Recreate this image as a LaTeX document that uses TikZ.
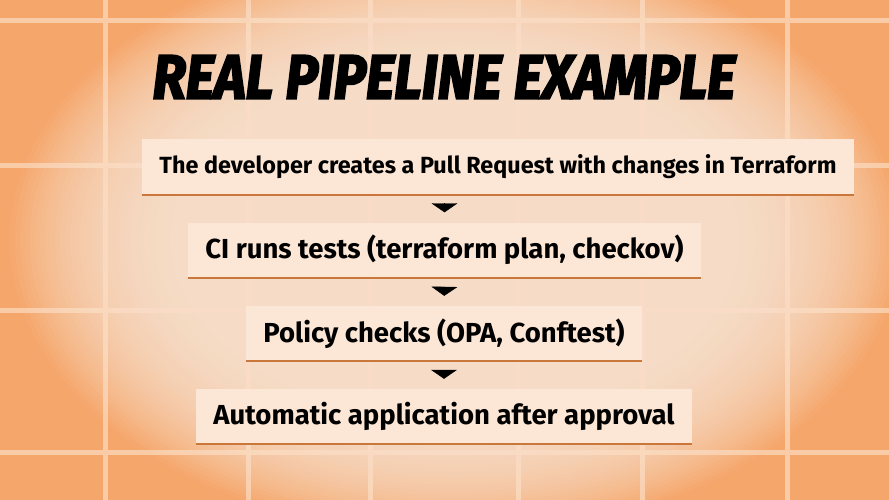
\documentclass[tikz,border=0pt]{standalone}
\usepackage{fontspec}
\setmainfont{Fira Sans}
\newfontfamily\titlefont{Fira Sans}[FakeBold=3.5]
\usetikzlibrary{arrows.meta}

\definecolor{bgorange}{HTML}{F5A66B}
\definecolor{gridline}{HTML}{F9CBA6}
\definecolor{glowc}{HTML}{FDE3CE}
\definecolor{boxfill}{HTML}{FCE7D6}
\definecolor{boxedge}{HTML}{C9773A}

\tikzset{
  stepbox/.style={fill=boxfill, inner xsep=17pt, minimum height=55pt,
    font=\bfseries\fontsize{27.5}{32}\selectfont},
  edgeline/.style={boxedge, line width=1.6pt},
  flow/.style={-{Triangle[width=26pt,length=9pt]}, black,
    shorten <=9pt, shorten >=10pt},
}

\begin{document}
\begin{tikzpicture}[x=1pt,y=-1pt]

            \useasboundingbox (0,0) rectangle (889,500);
            \fill[bgorange] (0,0) rectangle (889,500);

            % grid
            \foreach \gx in {105,248,370,518,642,787}
            \draw[gridline,line width=5pt] (\gx,0) -- (\gx,500);
            \foreach \gy in {21,166,310,452}
            \draw[gridline,line width=5pt] (0,\gy) -- (889,\gy);

            % glow
            \foreach \k in {0,...,39}
            \fill[glowc,opacity=0.06+0.002*\k] (455,240) ellipse ({445-5*\k} and {295-3.6*\k});

            \node[font=\titlefont\bfseries\itshape\fontsize{62}{70}\selectfont,
            transform shape,xscale=0.88] (title) at (444,77)
            {REAL PIPELINE EXAMPLE};

            \node[stepbox,font=\bfseries\fontsize{23.4}{28}\selectfont] (dev) at (498,167)
            {The developer creates a Pull Request with changes in Terraform};
            \node[stepbox] (ci) at (444.5,250)
            {CI runs tests (terraform plan, checkov)};
            \node[stepbox] (policy) at (444,333.5)
            {Policy checks (OPA, Conftest)};
            \node[stepbox] (apply) at (444,416.5)
            {Automatic application after approval};

            \draw[edgeline] (dev.south west) -- (dev.south east);
            \draw[edgeline] (ci.south west) -- (ci.south east);
            \draw[edgeline] (policy.south west) -- (policy.south east);
            \draw[edgeline] (apply.south west) -- (apply.south east);

            \draw[flow] (ci.north |- dev.south) -- (ci.north);
            \draw[flow] (ci.south) -- (policy.north);
            \draw[flow] (policy.south) -- (apply.north);
        \end{tikzpicture}
\end{document}
